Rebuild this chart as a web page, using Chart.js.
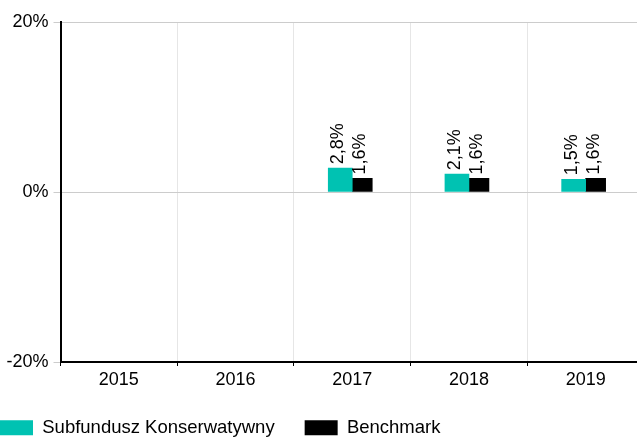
<!DOCTYPE html>
<html>
<head>
<meta charset="utf-8">
<script src="https://cdn.jsdelivr.net/npm/chart.js@4/dist/chart.umd.min.js"></script>
<style>
  html, body { margin: 0; padding: 0; background: #fff; overflow: hidden; }
  #wrap { width: 637px; height: 437px; position: relative; overflow: hidden; }
  #c { position: absolute; left: -30px; top: 0; }
</style>
</head>
<body>
<div id="wrap"><canvas id="c" width="674" height="447"></canvas></div>
<script>
const categories = ['2015', '2016', '2017', '2018', '2019'];
const fundValues = [null, null, 2.8, 2.1, 1.5];
const benchmarkValues = [null, null, 1.6, 1.6, 1.6];
const seriesNames = ['Subfundusz Konserwatywny', 'Benchmark'];
const yTicks = [-20, 0, 20];

const FONT = 'Liberation Sans, Arial, sans-serif';

const labelPlugin = {
  id: 'barLabels',
  afterDatasetsDraw(chart) {
    const ctx = chart.ctx;
    ctx.save();
    ctx.font = '18px ' + FONT;
    ctx.fillStyle = '#000';
    ctx.textAlign = 'left';
    ctx.textBaseline = 'middle';
    chart.data.datasets.forEach((ds, di) => {
      const meta = chart.getDatasetMeta(di);
      meta.data.forEach((bar, i) => {
        const v = ds.data[i];
        if (v === null || v === undefined) return;
        const txt = v.toFixed(1).replace('.', ',') + '%';
        ctx.save();
        ctx.translate(bar.x - 2, bar.y - 4);
        ctx.rotate(-Math.PI / 2);
        ctx.fillText(txt, 0, 0);
        ctx.restore();
      });
    });
    ctx.restore();
  }
};

new Chart(document.getElementById('c'), {
  type: 'bar',
  data: {
    labels: categories,
    datasets: [
      { label: seriesNames[0], data: fundValues, backgroundColor: '#00c2b2', borderWidth: 0, barThickness: 24 },
      { label: seriesNames[1], data: benchmarkValues, backgroundColor: '#000000', borderWidth: 0, barThickness: 20 }
    ]
  },
  options: {
    responsive: false,
    animation: false,
    devicePixelRatio: 1,
    layout: { padding: { left: 0, right: 0, top: 22, bottom: 0 } },
    plugins: {
      tooltip: { enabled: false },
      legend: {
        position: 'bottom',
        align: 'start',
        labels: {
          boxWidth: 33,
          boxHeight: 15,
          padding: 30,
          color: '#000',
          font: { family: FONT, size: 18.5 }
        }
      }
    },
    scales: {
      x: {
        offset: true,
        grid: { offset: true, color: '#e6e6e6', tickColor: '#000', tickLength: 4, lineWidth: 1 },
        border: { display: true, color: '#000', width: 2 },
        ticks: { color: '#000', font: { family: FONT, size: 18 }, padding: 3, maxRotation: 0 },
        afterFit(scale) { scale.height = 26.5; }
      },
      y: {
        min: -20,
        max: 20,
        afterBuildTicks(scale) { scale.ticks = yTicks.map(v => ({ value: v })); },
        grid: { color: '#cccccc', tickColor: '#cccccc', tickLength: 7, lineWidth: 1 },
        border: { display: true, color: '#000', width: 2 },
        ticks: {
          color: '#000',
          font: { family: FONT, size: 18 },
          padding: 5,
          callback: v => v + '%'
        },
        afterFit(scale) { scale.width = 90.5; }
      }
    }
  },
  plugins: [labelPlugin]
});
</script>
</body>
</html>
